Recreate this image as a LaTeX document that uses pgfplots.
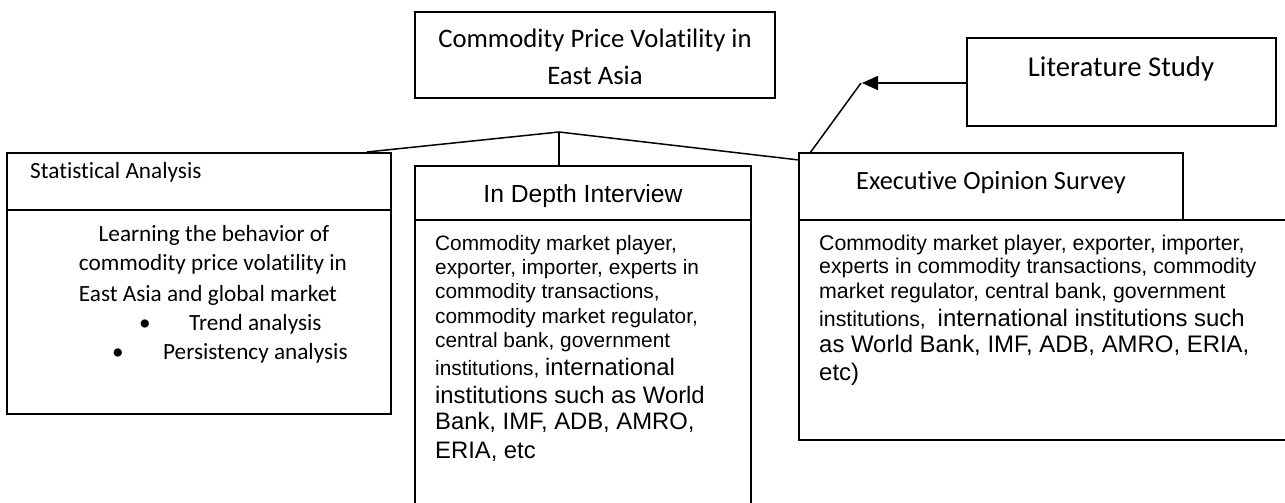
\documentclass[border=0pt]{standalone}
\usepackage{pgfplots}
\pgfplotsset{compat=1.18}
\usepackage{fontspec}
\setmainfont{Carlito}[Ligatures=NoCommon]
\newfontfamily\arial{Liberation Sans}[Ligatures=NoCommon]
\usetikzlibrary{arrows.meta}
\begin{document}
\begin{tikzpicture}[
  tl/.style={anchor=base west,inner sep=0pt},
  tc/.style={anchor=base,inner sep=0pt}]
\begin{axis}[x=1bp,y=1bp, y dir=reverse, xmin=0,xmax=1285,ymin=0,ymax=503,
  hide axis, scale only axis, clip=false]
% boxes
\addplot[black,line width=1.6bp] coordinates {(415,12) (775,12) (775,98) (415,98)} -- cycle;
\addplot[black,line width=1.6bp] coordinates {(967,38) (1276,38) (1276,126) (967,126)} -- cycle;
\addplot[black,line width=1.6bp] coordinates {(7,153) (391,153) (391,414) (7,414)} -- cycle;
\addplot[black,line width=1.6bp] coordinates {(7,210) (391,210)};
\addplot[black,line width=1.6bp] coordinates {(415,520) (415,166) (751,166) (751,520)};
\addplot[black,line width=1.6bp] coordinates {(415,220) (751,220)};
\addplot[black,line width=1.6bp] coordinates {(1183,220) (1183,153) (799,153) (799,440) (1290,440)};
\addplot[black,line width=1.6bp] coordinates {(799,220) (1290,220)};
% connectors
\addplot[black,line width=1.5bp] coordinates {(367,152) (559,132) (799,160)};
\addplot[black,line width=1.5bp] coordinates {(559,132) (559,166)};
\addplot[black,line width=1.5bp] coordinates {(810,153) (861,83)};
\addplot[black,line width=1.5bp,-{Triangle[length=16bp,width=14bp]}] coordinates {(967,83) (862,83)};
% texts
\node[tc,font=\fontsize{26.8}{33}\selectfont] at (axis cs:595,48) {Commodity Price Volatility in};
\node[tc,font=\fontsize{26.8}{33}\selectfont] at (axis cs:595,85) {East Asia};
\node[tc,font=\fontsize{28.8}{34}\selectfont] at (axis cs:1121,77) {Literature Study};
\node[tl,font=\fontsize{23.3}{28}\selectfont] at (axis cs:30,179) {Statistical Analysis};
\node[tc,font=\fontsize{23.3}{28}\selectfont] at (axis cs:214,242) {Learning the behavior of};
\node[tc,font=\fontsize{23.3}{28}\selectfont] at (axis cs:213,271) {commodity price volatility in};
\node[tc,font=\fontsize{23.3}{28}\selectfont] at (axis cs:208,302) {East Asia and global market};
\node[tc,font=\fontsize{23.3}{28}\selectfont] at (axis cs:145,331) {\textbullet};
\node[tl,font=\fontsize{23.3}{28}\selectfont] at (axis cs:189,331) {Trend analysis};
\node[tc,font=\fontsize{23.3}{28}\selectfont] at (axis cs:118,360) {\textbullet};
\node[tl,font=\fontsize{23.3}{28}\selectfont] at (axis cs:163,360) {Persistency analysis};
\node[tc,font=\arial\fontsize{24.8}{30}\selectfont] at (axis cs:583,203) {In Depth Interview};
\node[tc,font=\fontsize{26.4}{32}\selectfont] at (axis cs:991,190) {Executive Opinion Survey};
% ID body
\node[tl,font=\arial\fontsize{20.9}{25}\selectfont] at (axis cs:435,251) {Commodity market player,};
\node[tl,font=\arial\fontsize{20.9}{25}\selectfont] at (axis cs:435,275) {exporter, importer, experts in};
\node[tl,font=\arial\fontsize{20.9}{25}\selectfont] at (axis cs:435,299) {commodity transactions,};
\node[tl,font=\arial\fontsize{20.9}{25}\selectfont] at (axis cs:435,324) {commodity market regulator,};
\node[tl,font=\arial\fontsize{20.9}{25}\selectfont] at (axis cs:435,348) {central bank, government};
\node[tl,font=\arial] at (axis cs:435,376) {{\fontsize{20.9}{25}\selectfont institutions, }{\fontsize{23.9}{28}\selectfont international}};
\node[tl,font=\arial\fontsize{23.9}{28}\selectfont] at (axis cs:435,403) {institutions such as World};
\node[tl,font=\arial\fontsize{23.9}{28}\selectfont] at (axis cs:435,429) {Bank, IMF, ADB, AMRO,};
\node[tl,font=\arial\fontsize{23.9}{28}\selectfont] at (axis cs:435,458) {ERIA, etc};
% Exec body
\node[tl,font=\arial\fontsize{21.4}{25}\selectfont] at (axis cs:819,251) {Commodity market player, exporter, importer,};
\node[tl,font=\arial\fontsize{21.4}{25}\selectfont] at (axis cs:819,274) {experts in commodity transactions, commodity};
\node[tl,font=\arial\fontsize{21.4}{25}\selectfont] at (axis cs:819,299) {market regulator, central bank, government};
\node[tl,font=\arial] at (axis cs:819,327) {{\fontsize{21.4}{25}\selectfont institutions,\ \ }{\fontsize{24}{28}\selectfont international institutions such}};
\node[tl,font=\arial\fontsize{24}{28}\selectfont] at (axis cs:819,353) {as World Bank, IMF, ADB, AMRO, ERIA,};
\node[tl,font=\arial\fontsize{24}{28}\selectfont] at (axis cs:819,381) {etc)};
\end{axis}
\pgfresetboundingbox
\path (current axis.south west) rectangle (current axis.north east);
\end{tikzpicture}
\end{document}
